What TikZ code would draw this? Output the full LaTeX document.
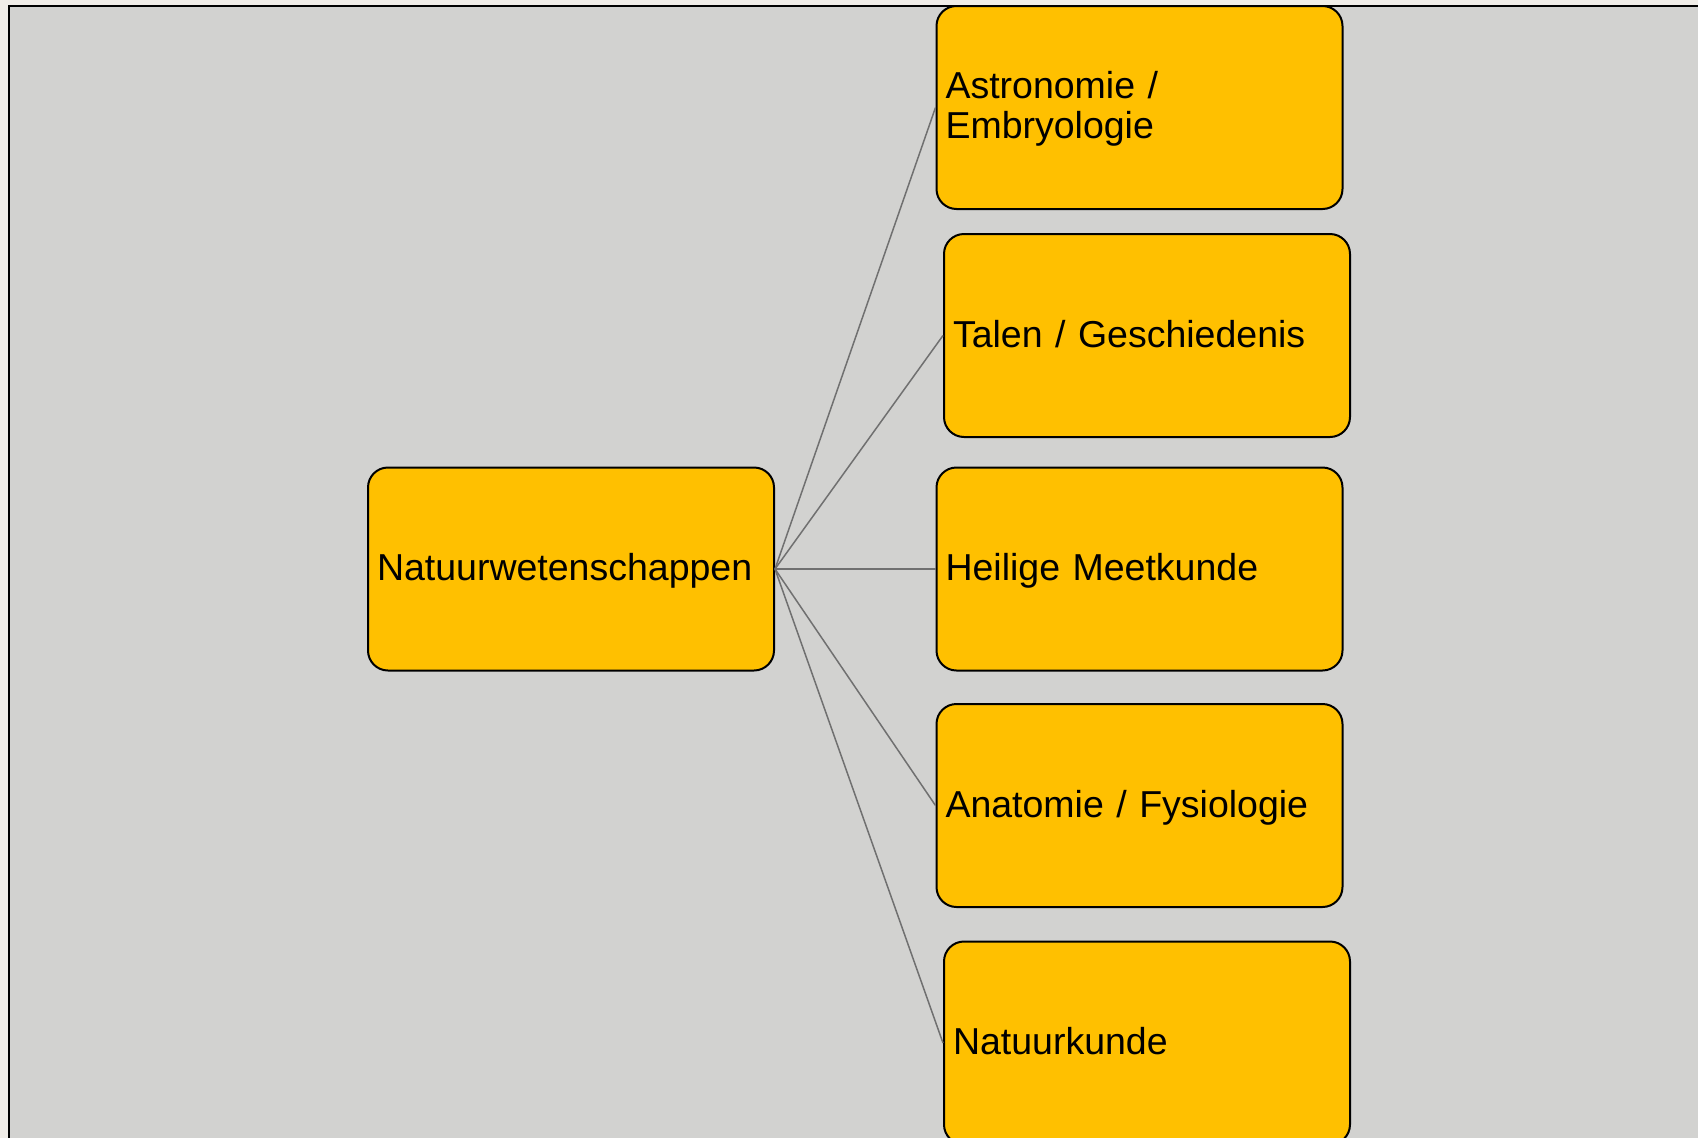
\documentclass[tikz,border=0pt]{standalone}
\usepackage{fontspec}
\setmainfont{Liberation Sans}
\definecolor{outerbg}{RGB}{240,237,232}
\definecolor{panelgray}{RGB}{210,210,208}
\definecolor{boxyellow}{RGB}{255,192,0}
\definecolor{linkgray}{RGB}{112,112,112}
\begin{document}
\begin{tikzpicture}[x=1pt,y=-1pt,
  box/.style={draw=black, line width=2pt, fill=boxyellow, rounded corners=20pt,
    minimum width=406pt, minimum height=203pt, text width=388pt,
    inner xsep=9pt, inner ysep=0pt, align=left,
    font=\fontsize{37.5}{40}\selectfont, text height=27pt, text depth=3.5pt},
  link/.style={draw=linkgray, line width=1.5pt}]
\useasboundingbox (0,0) rectangle (1698,1138);
\clip (0,0) rectangle (1698,1138);
\fill[outerbg] (0,0) rectangle (1698,1138);
\draw[fill=panelgray, line width=2pt] (9,6) rectangle (1720,1160);

\node[box] (c) at (571,569) {Natuurwetenschappen};
\node[box, text depth=46pt] (b1) at (1139.5,107.5) {Astronomie /\\Embryologie};
\node[box] (b2) at (1147,335.5) {Talen / Geschiedenis};
\node[box] (b3) at (1139.5,569) {Heilige Meetkunde};
\node[box] (b4) at (1139.5,805.5) {Anatomie / Fysiologie};
\node[box] (b5) at (1147,1043) {Natuurkunde};

\foreach \b in {b1,b2,b3,b4,b5}
  \draw[link] (c.east) -- (\b.west);
\end{tikzpicture}
\end{document}
